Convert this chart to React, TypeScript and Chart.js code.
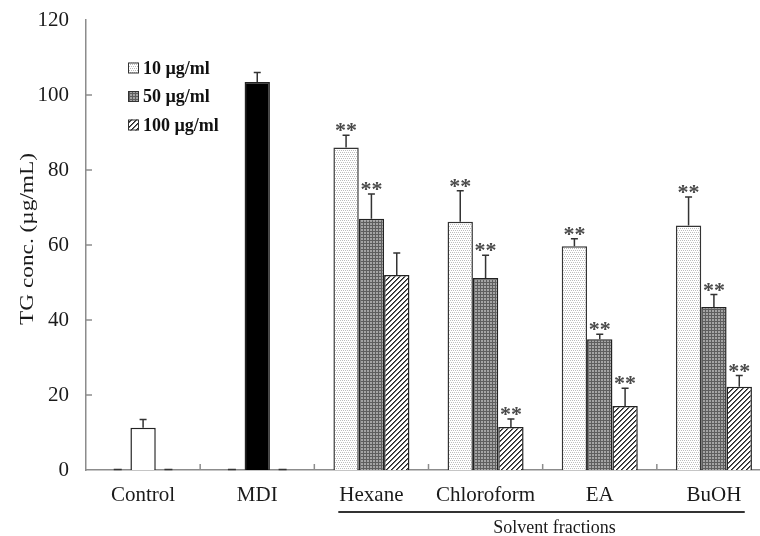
import React, { useEffect, useRef } from "react";
import { Chart, registerables } from "chart.js";

Chart.register(...registerables);

const categories = ["Control", "MDI", "Hexane", "Chloroform", "EA", "BuOH"];
const seriesLabels = ["10 µg/ml", "50 µg/ml", "100 µg/ml"];
const values10 = [0, 0, 86.0, 66.2, 59.7, 65.2];
const errors10 = [0, 0, 3.3, 8.3, 2.0, 7.6];
const values50 = [11.3, 103.5, 67.0, 51.2, 34.9, 43.5];
const errors50 = [2.2, 2.5, 6.6, 6.1, 1.3, 3.3];
const values100 = [0, 0, 52.0, 11.5, 17.1, 22.2];
const errors100 = [0, 0, 5.9, 2.1, 4.7, 3.0];
const sig10 = [false, false, true, true, true, true];
const sig50 = [false, false, true, true, true, true];
const sig100 = [false, false, false, true, true, true];
const yTicks = [0, 20, 40, 60, 80, 100, 120];
const yTitle = "TG conc. (µg/mL)";
const groupTitle = "Solvent fractions";
const groupStart = 2;

const FONT = "'Liberation Serif', 'Times New Roman', serif";
const AXIS = "#8c8c8c";
const INK = "#1a1a1a";

function makePattern(size: number, draw: (x: number, y: number) => string | null): CanvasPattern | string {
  const c = document.createElement("canvas");
  c.width = size;
  c.height = size;
  const g = c.getContext("2d");
  if (!g) return "#ccc";
  for (let x = 0; x < size; x++) {
    for (let y = 0; y < size; y++) {
      const col = draw(x, y);
      if (col) {
        g.fillStyle = col;
        g.fillRect(x, y, 1, 1);
      }
    }
  }
  const p = g.createPattern(c, "repeat");
  return p || "#ccc";
}

export default function App() {
  const ref = useRef<HTMLCanvasElement>(null);

  useEffect(() => {
    const canvas = ref.current;
    if (!canvas) return;

    const pat10 = makePattern(4, (x, y) => {
      if (y % 2 === 0 && (x + (y % 4 === 0 ? 0 : 1)) % 2 === 0) return "#bdbdbd";
      return "#ffffff";
    });
    const pat50 = makePattern(3, (x, y) => {
      if (x === 0 || y === 0) return "#5e5e5e";
      return "#a4a4a4";
    });
    const pat100 = makePattern(5, (x, y) => {
      const k = (x + y) % 5;
      return k === 0 ? "#222222" : k === 1 ? "#666666" : "#ffffff";
    });
    const patterns = [pat10, pat50, pat100];

    const allValues = [values10, values50, values100];
    const allErrors = [errors10, errors50, errors100];
    const allSig = [sig10, sig50, sig100];

    const bg50 = values50.map((_, i) => (i === 0 ? "#ffffff" : i === 1 ? "#000000" : pat50));

    const annot = {
      id: "annot",
      afterDatasetsDraw(chart: any) {
        const ctx: CanvasRenderingContext2D = chart.ctx;
        const ys = chart.scales.y;
        const xs = chart.scales.x;
        const area = chart.chartArea;
        const base = ys.getPixelForValue(0);
        ctx.save();
        ctx.strokeStyle = AXIS;
        ctx.lineWidth = 1.5;
        yTicks.forEach((t) => {
          if (t === yTicks[0] || t === yTicks[yTicks.length - 1]) return;
          const py = ys.getPixelForValue(t);
          ctx.beginPath();
          ctx.moveTo(area.left, py);
          ctx.lineTo(area.left + 6, py);
          ctx.stroke();
        });
        for (let i = 0; i < categories.length - 1; i++) {
          const px = (xs.getPixelForValue(i) + xs.getPixelForValue(i + 1)) / 2;
          ctx.beginPath();
          ctx.moveTo(px, base);
          ctx.lineTo(px, base - 6);
          ctx.stroke();
        }
        for (let d = 0; d < allValues.length; d++) {
          const meta = chart.getDatasetMeta(d);
          meta.data.forEach((el: any, j: number) => {
            const v = allValues[d][j];
            const e = allErrors[d][j];
            const x = el.x;
            ctx.strokeStyle = "#333";
            ctx.lineWidth = 1.5;
            if (v === 0) {
              ctx.beginPath();
              ctx.moveTo(x - 4, base - 0.5);
              ctx.lineTo(x + 4, base - 0.5);
              ctx.stroke();
              return;
            }
            const yTop = ys.getPixelForValue(v);
            const yCap = ys.getPixelForValue(v + e);
            ctx.beginPath();
            ctx.moveTo(x, yTop);
            ctx.lineTo(x, yCap);
            ctx.moveTo(x - 3.5, yCap);
            ctx.lineTo(x + 3.5, yCap);
            ctx.stroke();
            if (allSig[d][j]) {
              ctx.fillStyle = "#4a4a4a";
              ctx.font = `bold 22px ${FONT}`;
              ctx.textAlign = "center";
              ctx.textBaseline = "alphabetic";
              ctx.fillText("**", x, yCap + 2);
            }
          });
        }
        ctx.restore();
      },
      afterDraw(chart: any) {
        const ctx: CanvasRenderingContext2D = chart.ctx;
        const xs = chart.scales.x;
        const area = chart.chartArea;
        ctx.save();
        ctx.translate(33, (area.top + area.bottom) / 2 - 6);
        ctx.rotate(-Math.PI / 2);
        ctx.font = `18px ${FONT}`;
        const w = ctx.measureText(yTitle).width;
        ctx.scale(172 / w, 1);
        ctx.fillStyle = INK;
        ctx.textAlign = "center";
        ctx.textBaseline = "alphabetic";
        ctx.fillText(yTitle, 0, 0);
        ctx.restore();

        ctx.save();
        const lx = area.left + 42;
        const ly0 = area.top + 48;
        seriesLabels.forEach((lab, i) => {
          const cy = ly0 + i * 28.5;
          ctx.fillStyle = patterns[i] as any;
          ctx.fillRect(lx, cy - 5.5, 11, 11);
          ctx.strokeStyle = "#333";
          ctx.lineWidth = 1;
          ctx.strokeRect(lx + 0.5, cy - 5, 10, 10);
          ctx.fillStyle = "#111";
          ctx.font = `bold 18px ${FONT}`;
          ctx.textAlign = "left";
          ctx.textBaseline = "middle";
          ctx.fillText(lab, lx + 15, cy + 1);
        });
        ctx.restore();

        ctx.save();
        const step = xs.getPixelForValue(1) - xs.getPixelForValue(0);
        const gx0 = xs.getPixelForValue(groupStart) - step * 0.29;
        const gx1 = xs.getPixelForValue(categories.length - 1) + step * 0.27;
        const gy = area.bottom + 42;
        ctx.strokeStyle = "#333";
        ctx.lineWidth = 2;
        ctx.beginPath();
        ctx.moveTo(gx0, gy);
        ctx.lineTo(gx1, gy);
        ctx.stroke();
        ctx.fillStyle = INK;
        ctx.font = `18px ${FONT}`;
        ctx.textAlign = "center";
        ctx.textBaseline = "alphabetic";
        ctx.fillText(groupTitle, (gx0 + gx1) / 2 + 13, gy + 21);
        ctx.restore();
      },
    };

    const chart = new Chart(canvas, {
      type: "bar",
      data: {
        labels: categories,
        datasets: [
          {
            label: seriesLabels[0],
            data: values10,
            backgroundColor: pat10 as any,
            borderColor: "#333",
            borderWidth: 1.5,
          },
          {
            label: seriesLabels[1],
            data: values50,
            backgroundColor: bg50 as any,
            borderColor: "#222",
            borderWidth: 1.5,
          },
          {
            label: seriesLabels[2],
            data: values100,
            backgroundColor: pat100 as any,
            borderColor: "#222",
            borderWidth: 1.5,
          },
        ],
      },
      options: {
        responsive: false,
        animation: false,
        devicePixelRatio: 1,
        layout: { padding: { top: 20, right: 19, left: 0, bottom: 0 } },
        datasets: {
          bar: { categoryPercentage: 0.666, barPercentage: 1 },
        },
        plugins: {
          legend: { display: false },
          tooltip: { enabled: false },
          title: { display: false },
        },
        scales: {
          x: {
            offset: true,
            grid: { display: false, drawTicks: false },
            border: { display: true, color: AXIS, width: 1.5 },
            ticks: {
              color: INK,
              font: { family: FONT, size: 21 },
              padding: 13,
              maxRotation: 0,
              autoSkip: false,
            },
            afterFit: (s: any) => {
              s.height = 66;
            },
          },
          y: {
            min: 0,
            max: 120,
            grid: { display: false, drawTicks: false },
            border: { display: true, color: AXIS, width: 1.5 },
            ticks: {
              stepSize: 20,
              color: INK,
              font: { family: FONT, size: 21 },
              padding: 17,
            },
            afterFit: (s: any) => {
              s.width = 86;
              s.paddingTop = 0;
              s.paddingBottom = 0;
            },
          },
        },
      },
      plugins: [annot],
    });

    return () => chart.destroy();
  }, []);

  return (
    <div
      style={{
        position: "fixed",
        left: 0,
        top: 0,
        width: 760,
        height: 536,
        overflow: "hidden",
        background: "#ffffff",
      }}
    >
      <canvas ref={ref} width={790} height={536} style={{ display: "block", width: 790, height: 536 }} />
    </div>
  );
}
